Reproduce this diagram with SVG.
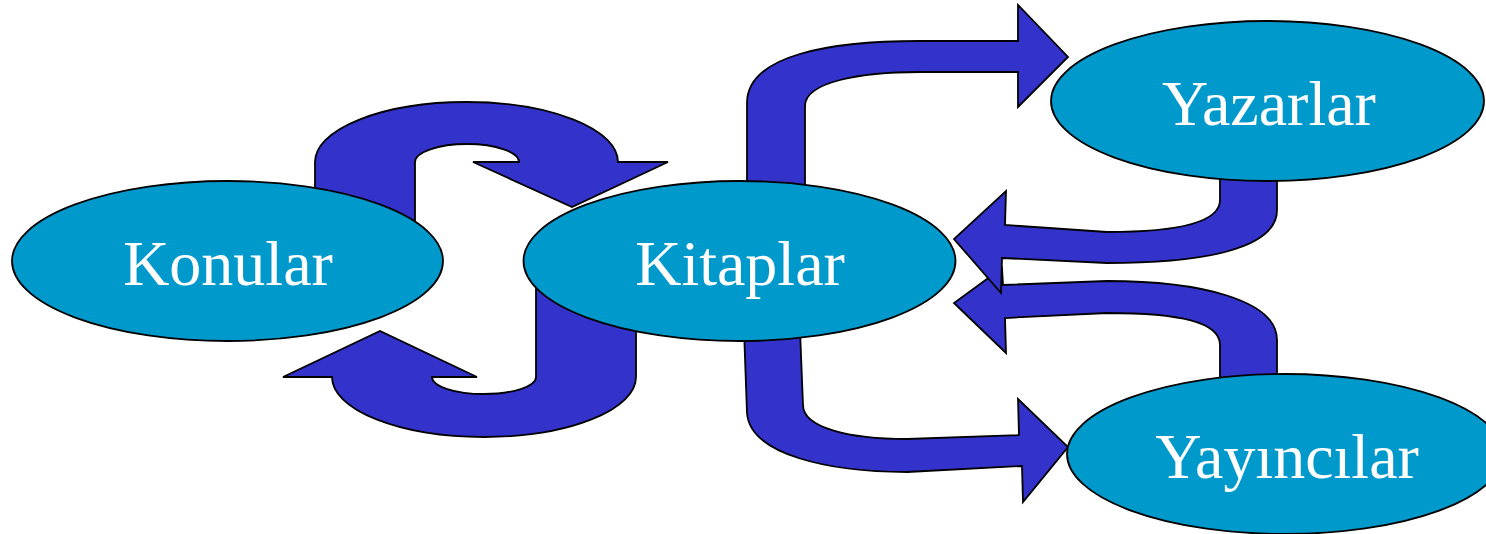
<svg xmlns="http://www.w3.org/2000/svg" width="1486" height="534" viewBox="0 0 1486 534">
<style>
.arrow{fill:#3333CC;stroke:#000;stroke-width:1.8;stroke-linejoin:miter}
.node ellipse{fill:#0099CC;stroke:#000;stroke-width:1.8}
.node text{fill:#fff;font-family:"Liberation Serif","Times New Roman",serif;font-size:64px;text-anchor:middle}
</style>
<rect width="1486" height="534" fill="#fff"/>
<g id="connectors">
<path class="arrow" d="M315,235 L315,162 A151.5,60 0 0 1 618,162 L668,162 L572,207 L473,162 L519,162 A52,18 0 0 0 415,162 L415,235 Z"/>
<path class="arrow" d="M636,280 L636,377 A152,60 0 0 1 332,377 L283,377 L380,331 L477,377 L432,377 A52,17 0 0 0 536,377 L536,280 Z"/>
<path class="arrow" d="M747,195 L747,103 C747,55 830,41 920,41 L1018,41 L1018,5 L1068,57 L1018,107 L1018,72 L920,72 C860,72 805,82 805,106 L805,195 Z"/>
<path class="arrow" d="M744,330 L747,413 C750,455 830,472 907,472 L1022,466 L1023,502 L1068,447 L1018,399 L1019,435 L907,439 C850,439 803,428 803,405 L800,330 Z"/>
<path class="arrow" d="M1277,390 L1277,340 C1277,300 1200,281 1107,281 L1003,285 L1002,268 L954,303 L1006,353 L1005,318 L1107,313 C1180,313 1220,322 1220,345 L1220,390 Z"/>
<path class="arrow" d="M1277,170 L1277,210 C1277,250 1200,263 1107,263 L1002,258 L1001,293 L954,239 L1006,191 L1005,225 L1107,232 C1180,232 1220,222 1220,200 L1220,170 Z"/>
</g>
<g id="konular" class="node"><ellipse cx="227.5" cy="261" rx="215.5" ry="80"/><text x="228" y="285">Konular</text></g>
<g id="kitaplar" class="node"><ellipse cx="739.5" cy="261" rx="216" ry="80"/><text x="740" y="285">Kitaplar</text></g>
<g id="yazarlar" class="node"><ellipse cx="1267.5" cy="101" rx="216.5" ry="80"/><text x="1269" y="125">Yazarlar</text></g>
<g id="yayincilar" class="node"><ellipse cx="1285" cy="454" rx="218" ry="80"/><text x="1287" y="478">Yayıncılar</text></g>
</svg>
